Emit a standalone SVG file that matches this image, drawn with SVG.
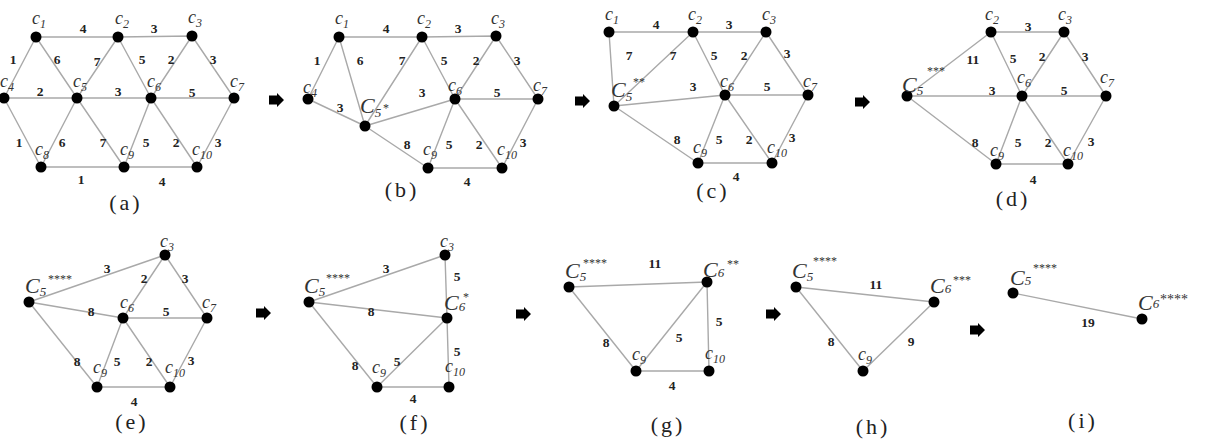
<svg xmlns="http://www.w3.org/2000/svg" width="1206" height="444" viewBox="0 0 1206 444">
<style>
.e{stroke:#a9a9a9;stroke-width:1.4;fill:none}
.n{fill:#000}
.lc{font-family:"Liberation Serif",serif;font-style:italic;font-size:18px;fill:#333}
.uc{font-family:"Liberation Serif",serif;font-style:italic;font-size:22px;fill:#333}
.sb{font-size:12px}
.sb2{font-size:13px}
.st{font-family:"Liberation Serif",serif;font-style:normal;font-size:12px;fill:#333}
.w{font-family:"Liberation Serif",serif;font-weight:bold;font-size:13.5px;fill:#222;text-anchor:middle}
.p{font-family:"Liberation Serif",serif;font-size:22px;fill:#222;text-anchor:middle;letter-spacing:3px}
</style>
<defs>
<path id="arr" d="M-7,-4.5 H1 V-7 L8,0 L1,7 V4.5 H-7 Z" fill="#000"/>
</defs>
<rect width="1206" height="444" fill="#fff"/>

<g id="arrows">
<use href="#arr" x="276" y="100"/>
<use href="#arr" x="582" y="101"/>
<use href="#arr" x="862" y="102"/>
<use href="#arr" x="263" y="313"/>
<use href="#arr" x="523" y="314"/>
<use href="#arr" x="773" y="314"/>
<use href="#arr" x="977" y="330"/>
</g>

<!-- Panel a -->
<g id="panel-a">
<g id="a-edges">
<path class="e" d="M36,37L118,37M118,37L192,36M36,37L4,98M36,37L77,98M118,37L77,98M118,37L151,98M192,36L151,98M192,36L234,98M4,98L77,98M77,98L151,98M151,98L234,98M4,98L41,167M77,98L41,167M77,98L124,167M151,98L124,167M151,98L197,167M234,98L197,167M41,167L124,167M124,167L197,167"/>
<text class="w" x="83" y="33">4</text><text class="w" x="154" y="33">3</text>
<text class="w" x="13" y="64">1</text><text class="w" x="57" y="64">6</text><text class="w" x="97" y="66">7</text><text class="w" x="142" y="64">5</text><text class="w" x="171" y="64">2</text><text class="w" x="213" y="64">3</text>
<text class="w" x="40" y="96">2</text><text class="w" x="118" y="96">3</text><text class="w" x="192" y="97">5</text>
<text class="w" x="19" y="147">1</text><text class="w" x="62" y="147">6</text><text class="w" x="103" y="147">7</text><text class="w" x="146" y="147">5</text><text class="w" x="176" y="147">2</text><text class="w" x="218" y="147">3</text>
<text class="w" x="81" y="184">1</text><text class="w" x="162" y="186">4</text>
</g>
<g id="a-c1"><circle class="n" cx="36" cy="37" r="5.5"/><text class="lc" x="32" y="24">c<tspan class="sb" dy="4">1</tspan></text></g>
<g id="a-c2"><circle class="n" cx="118" cy="37" r="5.5"/><text class="lc" x="115" y="24">c<tspan class="sb" dy="4">2</tspan></text></g>
<g id="a-c3"><circle class="n" cx="192" cy="36" r="5.5"/><text class="lc" x="188" y="23">c<tspan class="sb" dy="4">3</tspan></text></g>
<g id="a-c4"><circle class="n" cx="4" cy="98" r="5.5"/><text class="lc" x="0" y="87">c<tspan class="sb" dy="4">4</tspan></text></g>
<g id="a-c5"><circle class="n" cx="77" cy="98" r="5.5"/><text class="lc" x="73" y="87">c<tspan class="sb" dy="4">5</tspan></text></g>
<g id="a-c6"><circle class="n" cx="151" cy="98" r="5.5"/><text class="lc" x="147" y="87">c<tspan class="sb" dy="4">6</tspan></text></g>
<g id="a-c7"><circle class="n" cx="234" cy="98" r="5.5"/><text class="lc" x="230" y="87">c<tspan class="sb" dy="4">7</tspan></text></g>
<g id="a-c8"><circle class="n" cx="41" cy="167" r="5.5"/><text class="lc" x="35" y="155">c<tspan class="sb" dy="4">8</tspan></text></g>
<g id="a-c9"><circle class="n" cx="124" cy="167" r="5.5"/><text class="lc" x="120" y="155">c<tspan class="sb" dy="4">9</tspan></text></g>
<g id="a-c10"><circle class="n" cx="197" cy="167" r="5.5"/><text class="lc" x="192" y="155">c<tspan class="sb" dy="4">10</tspan></text></g>
<text class="p" x="126" y="210">(a)</text>
</g>

<!-- Panel b -->
<g id="panel-b">
<g id="b-edges">
<path class="e" d="M339,37L422,37M422,37L496,36M339,37L308,99M339,37L365,126M422,37L365,126M308,99L365,126M365,126L455,99M365,126L428,168M422,37L455,99M496,36L455,99M496,36L538,99M455,99L538,99M455,99L428,168M455,99L502,168M538,99L502,168M428,168L502,168"/>
<text class="w" x="386" y="33">4</text><text class="w" x="458" y="33">3</text>
<text class="w" x="317" y="65">1</text><text class="w" x="360" y="65">6</text><text class="w" x="402" y="65">7</text><text class="w" x="444" y="65">5</text><text class="w" x="476" y="65">2</text><text class="w" x="517" y="65">3</text>
<text class="w" x="340" y="112">3</text><text class="w" x="422" y="97">3</text><text class="w" x="497" y="97">5</text>
<text class="w" x="407" y="149">8</text><text class="w" x="449" y="149">5</text><text class="w" x="479" y="149">2</text><text class="w" x="523" y="147">3</text>
<text class="w" x="467" y="186">4</text>
</g>
<g id="b-c1"><circle class="n" cx="339" cy="37" r="5.5"/><text class="lc" x="335" y="24">c<tspan class="sb" dy="4">1</tspan></text></g>
<g id="b-c2"><circle class="n" cx="422" cy="37" r="5.5"/><text class="lc" x="417" y="24">c<tspan class="sb" dy="4">2</tspan></text></g>
<g id="b-c3"><circle class="n" cx="496" cy="36" r="5.5"/><text class="lc" x="491" y="24">c<tspan class="sb" dy="4">3</tspan></text></g>
<g id="b-c4"><circle class="n" cx="308" cy="99" r="5.5"/><text class="lc" x="303" y="93">c<tspan class="sb" dy="4">4</tspan></text></g>
<g id="b-C5"><circle class="n" cx="365" cy="126" r="5.5"/><text class="uc" x="360" y="113">C<tspan class="sb2" dy="4">5</tspan><tspan class="st" x="383" y="112">*</tspan></text></g>
<g id="b-c6"><circle class="n" cx="455" cy="99" r="5.5"/><text class="lc" x="448" y="91">c<tspan class="sb" dy="4">6</tspan></text></g>
<g id="b-c7"><circle class="n" cx="538" cy="99" r="5.5"/><text class="lc" x="533" y="91">c<tspan class="sb" dy="4">7</tspan></text></g>
<g id="b-c9"><circle class="n" cx="428" cy="168" r="5.5"/><text class="lc" x="423" y="155">c<tspan class="sb" dy="4">9</tspan></text></g>
<g id="b-c10"><circle class="n" cx="502" cy="168" r="5.5"/><text class="lc" x="497" y="155">c<tspan class="sb" dy="4">10</tspan></text></g>
<text class="p" x="402" y="197">(b)</text>
</g>

<!-- Panel c -->
<g id="panel-c">
<g id="c-edges">
<path class="e" d="M609,32L693,32M693,32L766,32M609,32L614,106M693,32L614,106M614,106L725,95M614,106L698,163M693,32L725,95M766,32L725,95M766,32L808,95M725,95L808,95M725,95L698,163M725,95L772,163M808,95L772,163M698,163L772,163"/>
<text class="w" x="656" y="29">4</text><text class="w" x="729" y="29">3</text>
<text class="w" x="629" y="60">7</text><text class="w" x="673" y="60">7</text><text class="w" x="714" y="60">5</text><text class="w" x="744" y="60">2</text><text class="w" x="787" y="58">3</text>
<text class="w" x="693" y="91">3</text><text class="w" x="767" y="91">5</text>
<text class="w" x="677" y="144">8</text><text class="w" x="719" y="144">5</text><text class="w" x="749" y="144">2</text><text class="w" x="792" y="142">3</text>
<text class="w" x="736" y="181">4</text>
</g>
<g id="c-c1"><circle class="n" cx="609" cy="32" r="5.5"/><text class="lc" x="605" y="20">c<tspan class="sb" dy="4">1</tspan></text></g>
<g id="c-c2"><circle class="n" cx="693" cy="32" r="5.5"/><text class="lc" x="688" y="20">c<tspan class="sb" dy="4">2</tspan></text></g>
<g id="c-c3"><circle class="n" cx="766" cy="32" r="5.5"/><text class="lc" x="762" y="20">c<tspan class="sb" dy="4">3</tspan></text></g>
<g id="c-C5"><circle class="n" cx="614" cy="106" r="5.5"/><text class="uc" x="611" y="97">C<tspan class="sb2" dy="4">5</tspan><tspan class="st" x="633" y="86">**</tspan></text></g>
<g id="c-c6"><circle class="n" cx="725" cy="95" r="5.5"/><text class="lc" x="720" y="87">c<tspan class="sb" dy="4">6</tspan></text></g>
<g id="c-c7"><circle class="n" cx="808" cy="95" r="5.5"/><text class="lc" x="803" y="87">c<tspan class="sb" dy="4">7</tspan></text></g>
<g id="c-c9"><circle class="n" cx="698" cy="163" r="5.5"/><text class="lc" x="693" y="153">c<tspan class="sb" dy="4">9</tspan></text></g>
<g id="c-c10"><circle class="n" cx="772" cy="163" r="5.5"/><text class="lc" x="767" y="153">c<tspan class="sb" dy="4">10</tspan></text></g>
<text class="p" x="713" y="198">(c)</text>
</g>

<!-- Panel d -->
<g id="panel-d">
<g id="d-edges">
<path class="e" d="M991,32L1064,32M907,96L991,32M907,96L1022,96M907,96L996,164M991,32L1022,96M1064,32L1022,96M1064,32L1106,96M1022,96L1106,96M1022,96L996,164M1022,96L1068,164M1106,96L1068,164M996,164L1068,164"/>
<text class="w" x="1028" y="31">3</text>
<text class="w" x="973" y="64">11</text><text class="w" x="1013" y="63">5</text><text class="w" x="1042" y="61">2</text><text class="w" x="1085" y="61">3</text>
<text class="w" x="992" y="95">3</text><text class="w" x="1064" y="95">5</text>
<text class="w" x="975" y="147">8</text><text class="w" x="1018" y="147">5</text><text class="w" x="1048" y="147">2</text><text class="w" x="1091" y="146">3</text>
<text class="w" x="1033" y="184">4</text>
</g>
<g id="d-c2"><circle class="n" cx="991" cy="32" r="5.5"/><text class="lc" x="985" y="20">c<tspan class="sb" dy="4">2</tspan></text></g>
<g id="d-c3"><circle class="n" cx="1064" cy="32" r="5.5"/><text class="lc" x="1058" y="20">c<tspan class="sb" dy="4">3</tspan></text></g>
<g id="d-C5"><circle class="n" cx="907" cy="96" r="5.5"/><text class="uc" x="902" y="92">C<tspan class="sb2" dy="3">5</tspan><tspan class="st" x="927" y="75">***</tspan></text></g>
<g id="d-c6"><circle class="n" cx="1022" cy="96" r="5.5"/><text class="lc" x="1017" y="83">c<tspan class="sb" dy="4">6</tspan></text></g>
<g id="d-c7"><circle class="n" cx="1106" cy="96" r="5.5"/><text class="lc" x="1100" y="83">c<tspan class="sb" dy="4">7</tspan></text></g>
<g id="d-c9"><circle class="n" cx="996" cy="164" r="5.5"/><text class="lc" x="990" y="156">c<tspan class="sb" dy="4">9</tspan></text></g>
<g id="d-c10"><circle class="n" cx="1068" cy="164" r="5.5"/><text class="lc" x="1063" y="156">c<tspan class="sb" dy="4">10</tspan></text></g>
<text class="p" x="1013" y="206">(d)</text>
</g>

<!-- Panel e -->
<g id="panel-e">
<g id="e-edges">
<path class="e" d="M29,302L165,255M29,302L123,318M29,302L97,387M165,255L123,318M165,255L207,318M123,318L207,318M123,318L97,387M123,318L170,387M207,318L170,387M97,387L170,387"/>
<text class="w" x="107" y="273">3</text><text class="w" x="144" y="283">2</text><text class="w" x="185" y="283">3</text>
<text class="w" x="91" y="316">8</text><text class="w" x="166" y="316">5</text>
<text class="w" x="77" y="366">8</text><text class="w" x="117" y="366">5</text><text class="w" x="149" y="366">2</text><text class="w" x="191" y="365">3</text>
<text class="w" x="134" y="406">4</text>
</g>
<g id="e-c3"><circle class="n" cx="165" cy="255" r="5.5"/><text class="lc" x="160" y="247">c<tspan class="sb" dy="4">3</tspan></text></g>
<g id="e-C5"><circle class="n" cx="29" cy="302" r="5.5"/><text class="uc" x="25" y="293">C<tspan class="sb2" dy="3">5</tspan><tspan class="st" x="48" y="283">****</tspan></text></g>
<g id="e-c6"><circle class="n" cx="123" cy="318" r="5.5"/><text class="lc" x="120" y="308">c<tspan class="sb" dy="4">6</tspan></text></g>
<g id="e-c7"><circle class="n" cx="207" cy="318" r="5.5"/><text class="lc" x="202" y="308">c<tspan class="sb" dy="4">7</tspan></text></g>
<g id="e-c9"><circle class="n" cx="97" cy="387" r="5.5"/><text class="lc" x="93" y="373">c<tspan class="sb" dy="4">9</tspan></text></g>
<g id="e-c10"><circle class="n" cx="170" cy="387" r="5.5"/><text class="lc" x="165" y="373">c<tspan class="sb" dy="4">10</tspan></text></g>
<text class="p" x="132" y="429">(e)</text>
</g>

<!-- Panel f -->
<g id="panel-f">
<g id="f-edges">
<path class="e" d="M309,302L445,255M445,255L447,318M309,302L447,318M309,302L377,387M377,387L447,318M447,318L449,387M377,387L449,387"/>
<text class="w" x="386" y="273">3</text><text class="w" x="457" y="281">5</text>
<text class="w" x="371" y="316">8</text>
<text class="w" x="457" y="356">5</text>
<text class="w" x="355" y="370">8</text><text class="w" x="397" y="366">5</text>
<text class="w" x="413" y="403">4</text>
</g>
<g id="f-c3"><circle class="n" cx="445" cy="255" r="5.5"/><text class="lc" x="440" y="247">c<tspan class="sb" dy="4">3</tspan></text></g>
<g id="f-C5"><circle class="n" cx="309" cy="302" r="5.5"/><text class="uc" x="304" y="293">C<tspan class="sb2" dy="3">5</tspan><tspan class="st" x="326" y="282">****</tspan></text></g>
<g id="f-C6"><circle class="n" cx="447" cy="318" r="5.5"/><text class="uc" x="444" y="310">C<tspan class="sb2" dy="1">6</tspan><tspan class="st" x="463" y="301">*</tspan></text></g>
<g id="f-c9"><circle class="n" cx="377" cy="387" r="5.5"/><text class="lc" x="372" y="373">c<tspan class="sb" dy="4">9</tspan></text></g>
<g id="f-c10"><circle class="n" cx="449" cy="387" r="5.5"/><text class="lc" x="445" y="372">c<tspan class="sb" dy="4">10</tspan></text></g>
<text class="p" x="415" y="430">(f)</text>
</g>

<!-- Panel g -->
<g id="panel-g">
<g id="g-edges">
<path class="e" d="M569,287L707,282M569,287L636,371M636,371L707,282M707,282L709,371M636,371L709,371"/>
<text class="w" x="655" y="268">11</text>
<text class="w" x="719" y="326">5</text>
<text class="w" x="606" y="347">8</text><text class="w" x="679" y="342">5</text>
<text class="w" x="672" y="390">4</text>
</g>
<g id="g-C5"><circle class="n" cx="569" cy="287" r="5.5"/><text class="uc" x="565" y="278">C<tspan class="sb2" dy="3">5</tspan><tspan class="st" x="583" y="267">****</tspan></text></g>
<g id="g-C6"><circle class="n" cx="707" cy="282" r="5.5"/><text class="uc" x="703" y="277">C<tspan class="sb2" dy="0">6</tspan><tspan class="st" x="727" y="268">**</tspan></text></g>
<g id="g-c9"><circle class="n" cx="636" cy="371" r="5.5"/><text class="lc" x="632" y="360">c<tspan class="sb" dy="4">9</tspan></text></g>
<g id="g-c10"><circle class="n" cx="709" cy="371" r="5.5"/><text class="lc" x="705" y="359">c<tspan class="sb" dy="4">10</tspan></text></g>
<text class="p" x="668" y="432">(g)</text>
</g>

<!-- Panel h -->
<g id="panel-h">
<g id="h-edges">
<path class="e" d="M796,287L934,302M796,287L863,371M863,371L934,302"/>
<text class="w" x="876" y="289">11</text>
<text class="w" x="831" y="346">8</text><text class="w" x="911" y="346">9</text>
</g>
<g id="h-C5"><circle class="n" cx="796" cy="287" r="5.5"/><text class="uc" x="792" y="278">C<tspan class="sb2" dy="3">5</tspan><tspan class="st" x="813" y="265">****</tspan></text></g>
<g id="h-C6"><circle class="n" cx="934" cy="302" r="5.5"/><text class="uc" x="930" y="293">C<tspan class="sb2" dy="0">6</tspan><tspan class="st" x="953" y="284">***</tspan></text></g>
<g id="h-c9"><circle class="n" cx="863" cy="371" r="5.5"/><text class="lc" x="858" y="360">c<tspan class="sb" dy="4">9</tspan></text></g>
<text class="p" x="873" y="434">(h)</text>
</g>

<!-- Panel i -->
<g id="panel-i">
<g id="i-edges">
<path class="e" d="M1013,293L1142,319"/>
<text class="w" x="1088" y="327">19</text>
</g>
<g id="i-C5"><circle class="n" cx="1013" cy="293" r="5.5"/><text class="uc" x="1010" y="285">C<tspan class="sb2" dy="0">5</tspan><tspan class="st" x="1033" y="272">****</tspan></text></g>
<g id="i-C6"><circle class="n" cx="1142" cy="319" r="5.5"/><text class="uc" x="1138" y="310">C<tspan class="sb2" dy="-2">6</tspan><tspan class="st" x="1160" y="304" style="font-size:14px">****</tspan></text></g>
<text class="p" x="1083" y="428">(i)</text>
</g>
</svg>
